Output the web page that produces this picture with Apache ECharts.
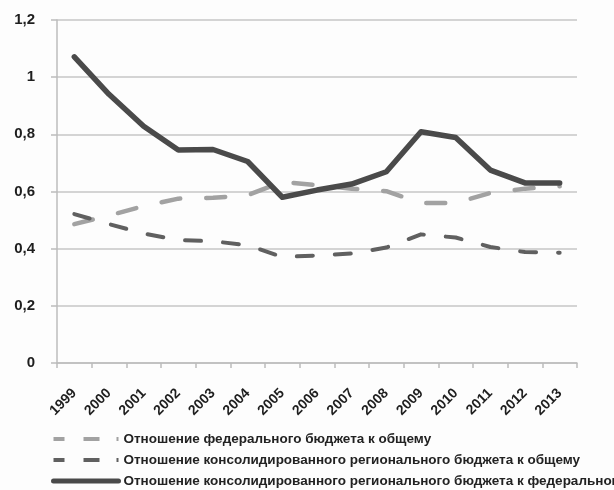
<!DOCTYPE html>
<html>
<head>
<meta charset="utf-8">
<script src="https://cdn.jsdelivr.net/npm/echarts@6/dist/echarts.min.js"></script>
<style>
  html, body { margin: 0; padding: 0; background: #fdfdfd; }
  #chart { width: 614px; height: 490px; }
</style>
</head>
<body>
<div id="chart"></div>
<script>
// Years on the category axis
const years = ['1999', '2000', '2001', '2002', '2003', '2004', '2005', '2006',
               '2007', '2008', '2009', '2010', '2011', '2012', '2013'];

// Share of the federal budget in the total
const federalShare = [0.486, 0.516, 0.549, 0.575, 0.578, 0.587, 0.634, 0.622,
                      0.610, 0.601, 0.560, 0.560, 0.595, 0.610, 0.618];

// Share of the consolidated regional budget in the total
const regionalShare = [0.521, 0.486, 0.453, 0.430, 0.426, 0.412, 0.371, 0.376,
                       0.383, 0.404, 0.450, 0.439, 0.406, 0.388, 0.386];

// Consolidated regional budget relative to the federal one
const regionalToFederal = [1.071, 0.940, 0.828, 0.745, 0.747, 0.705, 0.580, 0.605,
                           0.626, 0.669, 0.809, 0.789, 0.675, 0.630, 0.630];

const seriesNames = [
  'Отношение федерального бюджета к общему',
  'Отношение консолидированного регионального бюджета к общему',
  'Отношение консолидированного регионального бюджета к федеральному'
];

const chart = echarts.init(document.getElementById('chart'), null, { renderer: 'canvas' });

const labelFont = '"Liberation Sans", Arial, sans-serif';
const hiddenMarker = { color: 'rgba(0,0,0,0)', borderWidth: 0, opacity: 0 };

chart.setOption({
  backgroundColor: '#fdfdfd',
  animation: false,
  grid: { left: 57, right: 37, top: 20, bottom: 127, containLabel: false },
  legend: {
    orient: 'vertical',
    left: 51,
    top: 432,
    height: 120,
    padding: 0,
    itemWidth: 65,
    itemHeight: 14,
    itemGap: 7,
    textStyle: { fontFamily: labelFont, fontWeight: 'bold', fontSize: 13.5, color: '#222' },
    data: [
      { name: seriesNames[0], itemStyle: hiddenMarker,
        lineStyle: { color: '#a2a2a2', width: 4, type: [11, 19, 16, 17, 2, 10], cap: 'butt' } },
      { name: seriesNames[1], itemStyle: hiddenMarker,
        lineStyle: { color: '#606060', width: 4, type: [11, 19, 16, 17, 2, 10], cap: 'butt' } },
      { name: seriesNames[2], itemStyle: hiddenMarker,
        lineStyle: { color: '#4a4a4a', width: 5, type: 'solid' } }
    ]
  },
  xAxis: {
    type: 'category',
    data: years,
    boundaryGap: true,
    axisLine: { lineStyle: { color: '#bcbcbc', width: 1.5 } },
    axisTick: { show: true, length: 5, lineStyle: { color: '#bcbcbc', width: 1.5 } },
    axisLabel: {
      rotate: 45,
      margin: 28,
      fontFamily: labelFont,
      fontWeight: 'bold',
      fontSize: 14,
      color: '#1e1e1e'
    },
    splitLine: { show: false }
  },
  yAxis: {
    type: 'value',
    min: 0,
    max: 1.2,
    interval: 0.2,
    axisLine: { show: true, lineStyle: { color: '#bcbcbc', width: 1.5 } },
    axisTick: { show: true, length: 6, lineStyle: { color: '#bcbcbc', width: 1.5 } },
    axisLabel: {
      margin: 22,
      fontFamily: labelFont,
      fontWeight: 'bold',
      fontSize: 15,
      color: '#1e1e1e',
      formatter: v => String(+v.toFixed(1)).replace('.', ',')
    },
    splitLine: { show: true, lineStyle: { color: '#c6c6c6', width: 1.5 } }
  },
  series: [
    {
      name: seriesNames[0],
      type: 'line',
      data: federalShare,
      symbol: 'none',
      lineStyle: { color: '#a2a2a2', width: 4.5, type: [19, 26], cap: 'round', join: 'round' },
      itemStyle: { color: '#a2a2a2' },
      z: 2
    },
    {
      name: seriesNames[1],
      type: 'line',
      data: regionalShare,
      symbol: 'none',
      lineStyle: { color: '#606060', width: 4, type: [16, 22], cap: 'round', join: 'round' },
      itemStyle: { color: '#606060' },
      z: 3
    },
    {
      name: seriesNames[2],
      type: 'line',
      data: regionalToFederal,
      symbol: 'none',
      lineStyle: { color: '#4a4a4a', width: 5.5, type: 'solid', cap: 'round', join: 'round' },
      itemStyle: { color: '#4a4a4a' },
      z: 4
    }
  ]
});
</script>
</body>
</html>
